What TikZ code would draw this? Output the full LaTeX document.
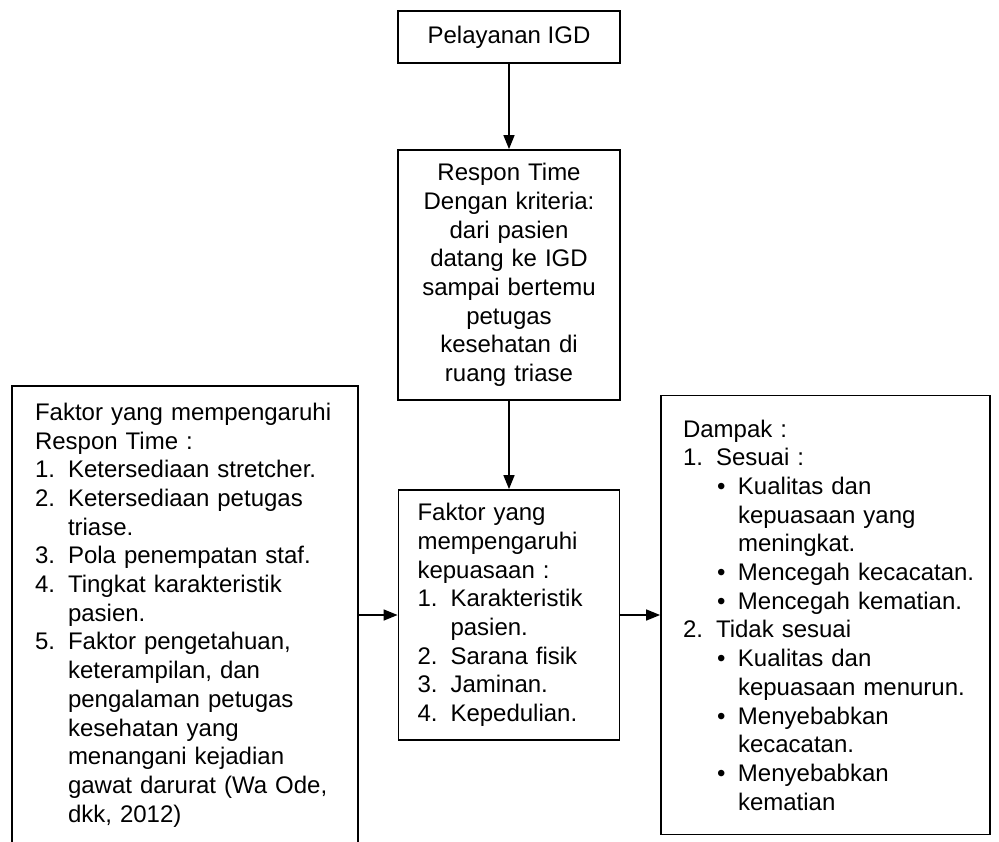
\documentclass[tikz,border=0pt]{standalone}
\usepackage{fontspec}
\setmainfont{Liberation Sans}
\usetikzlibrary{arrows.meta}

\newcommand{\nomor}[1]{\makebox[16.5pt][l]{#1}}
\newcommand{\lanjut}{\hspace*{16.5pt}}
\newcommand{\titik}{\hspace*{17pt}\makebox[10.5pt][l]{\textbullet}}
\newcommand{\titiklanjut}{\hspace*{27.5pt}}

\begin{document}
\begin{tikzpicture}[x=0.5pt,y=-0.5pt,
    kotak/.style={draw,line width=0.9pt,font=\fontsize{12}{14.35}\selectfont},
    panah/.style={-{Triangle[length=7pt,width=5.5pt]},line width=0.75pt}]
    \useasboundingbox (0,0) rectangle (999,841);
    \clip (0,0) rectangle (999,841);
    \node[kotak,minimum width=111pt,minimum height=26pt] (pelayanan) at (509,37) {Pelayanan IGD};
    \node[kotak,text width=100pt,inner xsep=5.5pt,align=center,minimum height=125pt] (respon) at (509,275)
        {Respon Time\\Dengan kriteria:\\dari pasien\\datang ke IGD\\sampai bertemu\\petugas\\kesehatan di\\ruang triase};
    \node[kotak,text width=91.5pt,inner xsep=9.5pt,align=left,minimum height=125pt] (kepuasan) at (509,615)
        {Faktor yang\\mempengaruhi\\kepuasaan :\\
        \nomor{1.}Karakteristik\\\lanjut pasien.\\
        \nomor{2.}Sarana fisik\\
        \nomor{3.}Jaminan.\\
        \nomor{4.}Kepedulian.};
    \node[kotak,text width=150pt,inner xsep=11.5pt,align=left,minimum height=229pt] (faktor) at (185,615)
        {Faktor yang mempengaruhi\\Respon Time :\\
        \nomor{1.}Ketersediaan stretcher.\\
        \nomor{2.}Ketersediaan petugas\\\lanjut triase.\\
        \nomor{3.}Pola penempatan staf.\\
        \nomor{4.}Tingkat karakteristik\\\lanjut pasien.\\
        \nomor{5.}Faktor pengetahuan,\\\lanjut keterampilan, dan\\\lanjut pengalaman petugas\\
        \lanjut kesehatan yang\\\lanjut menangani kejadian\\\lanjut gawat darurat (Wa Ode,\\\lanjut dkk, 2012)};
    \node[kotak,text width=142.5pt,inner xsep=11pt,align=left,minimum height=219.5pt] (dampak) at (825.5,615)
        {Dampak :\\
        \nomor{1.}Sesuai :\\
        \titik Kualitas dan\\\titiklanjut kepuasaan yang\\\titiklanjut meningkat.\\
        \titik\mbox{Mencegah kecacatan.}\\
        \titik Mencegah kematian.\\
        \nomor{2.}Tidak sesuai\\
        \titik Kualitas dan\\\titiklanjut kepuasaan menurun.\\
        \titik Menyebabkan\\\titiklanjut kecacatan.\\
        \titik Menyebabkan\\\titiklanjut kematian};
    \draw[panah] (pelayanan) -- (respon);
    \draw[panah] (respon) -- (kepuasan);
    \draw[panah] (faktor) -- (kepuasan);
    \draw[panah] (kepuasan) -- (dampak);
\end{tikzpicture}
\end{document}
